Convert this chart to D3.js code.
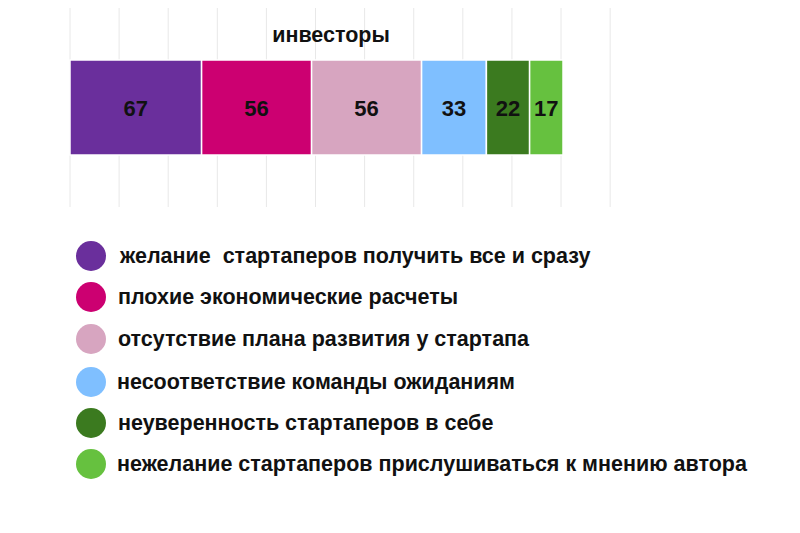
<!DOCTYPE html>
<html><head><meta charset="utf-8">
<script src="https://cdn.jsdelivr.net/npm/d3@7"></script>
<style>html,body{margin:0;padding:0;background:#fff;}svg{display:block;font-family:"Liberation Sans",Arial,sans-serif;}</style>
</head><body>
<svg id="c" width="800" height="533"></svg>
<script>
const categories = [
  "желание  стартаперов получить все и сразу",
  "плохие экономические расчеты",
  "отсутствие плана развития у стартапа",
  "несоответствие команды ожиданиям",
  "неуверенность стартаперов в себе",
  "нежелание стартаперов прислушиваться к мнению автора"
];
const values = [67, 56, 56, 33, 22, 17];
const colors = ["#6a2f9c", "#cc0071", "#d7a5c0", "#7fbfff", "#3b7a1f", "#66c13f"];
const seriesName = "инвесторы";
const gridTicks = [0,25,50,75,100,125,150,175,200,225,250,275];

const svg = d3.select("#c");
const x = d3.scaleLinear().domain([0, 251]).range([70, 563]);
const y = d3.scaleBand().domain([seriesName]).range([60, 155]);

// gridlines
svg.append("g").selectAll("line").data(gridTicks).join("line")
  .attr("x1", d => x(d)).attr("x2", d => x(d))
  .attr("y1", 8).attr("y2", 207)
  .attr("stroke", "#e8e8e8").attr("stroke-width", 1);

// stacked segments
let acc = 0;
const segs = values.map((v, i) => { const s = {v, i, x0: acc, x1: acc + v}; acc += v; return s; });
svg.append("g").selectAll("rect").data(segs).join("rect")
  .attr("x", d => x(d.x0)).attr("width", d => x(d.x1) - x(d.x0))
  .attr("y", y(seriesName)).attr("height", y.bandwidth())
  .attr("fill", d => colors[d.i])
  .attr("stroke", "#fff").attr("stroke-width", 1.5);

svg.append("g").selectAll("text").data(segs).join("text")
  .attr("x", d => (x(d.x0) + x(d.x1)) / 2)
  .attr("y", y(seriesName) + y.bandwidth() / 2 + 8)
  .attr("text-anchor", "middle")
  .attr("font-size", 22).attr("font-weight", "bold").attr("fill", "#111")
  .text(d => d.v);

svg.append("text").attr("x", 331).attr("y", 42).attr("text-anchor", "middle")
  .attr("font-size", 21.5).attr("font-weight", "bold").attr("fill", "#111")
  .text(seriesName);

// legend
const ly = [256, 297, 339, 382, 423, 464];
const lx = [120, 118, 118, 117, 118, 117];
const lg = svg.append("g");
categories.forEach((c, i) => {
  lg.append("circle").attr("cx", 91).attr("cy", ly[i]).attr("r", 15).attr("fill", colors[i]);
  lg.append("text").attr("x", lx[i]).attr("y", ly[i] + 7)
    .style("white-space", "pre")
    .attr("font-size", 21.5).attr("font-weight", "bold").attr("fill", "#111")
    .text(c);
});
</script>
</body></html>
